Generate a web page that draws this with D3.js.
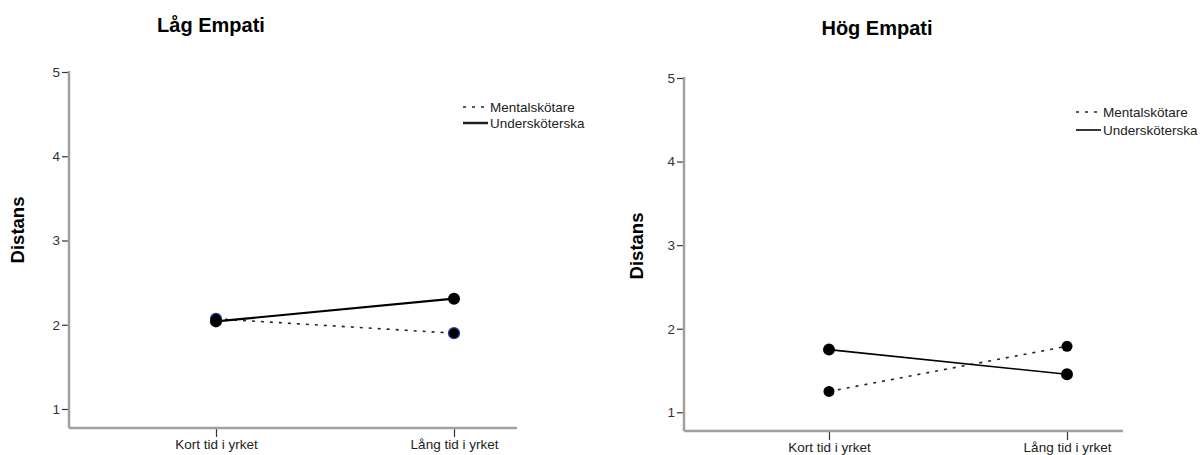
<!DOCTYPE html>
<html><head><meta charset="utf-8">
<script src="https://cdn.jsdelivr.net/npm/d3@7"></script>
<style>body{margin:0;background:#fff}svg{display:block;font-family:"Liberation Sans",Arial,sans-serif}</style>
</head><body><svg id="c" width="1202" height="455"></svg>
<script>
const categories = ["Kort tid i yrket", "Lång tid i yrket"];
const seriesNames = ["Mentalskötare", "Undersköterska"];
const yTicks = [1, 2, 3, 4, 5];
const lowMental = [2.07, 1.90];
const lowUnder = [2.04, 2.31];
const highMental = [1.25, 1.79];
const highUnder = [1.75, 1.455];
const panelTitles = ["Låg Empati", "Hög Empati"];
const yTitle = "Distans";

const svg = d3.select("#c");
const panels = [
  {title: panelTitles[0], m: lowMental, u: lowUnder, ax: 69, axEnd: 517, y5: 72, y1: 409, xAxisY: 428,
   cx: [216, 454], titleX: 211, titleY: 32, yTitleX: 24, yTitleY: 230, legX: 463, legY: 107, legGap: 16, solidW: 2.2, blueEdge: true},
  {title: panelTitles[1], m: highMental, u: highUnder, ax: 684, axEnd: 1123, y5: 78, y1: 412.3, xAxisY: 431,
   cx: [829, 1067], titleX: 877, titleY: 35, yTitleX: 643, yTitleY: 246, legX: 1076, legY: 112, legGap: 18, solidW: 1.6, blueEdge: false}
];

panels.forEach(p => {
  const g = svg.append("g");
  const y = d3.scaleLinear().domain([1, 5]).range([p.y1, p.y5]);
  const x = d3.scalePoint().domain(categories).range(p.cx);

  g.append("text").attr("x", p.titleX).attr("y", p.titleY).attr("text-anchor", "middle")
    .attr("font-size", 20).attr("font-weight", "bold").attr("fill", "#000").text(p.title);
  g.append("text").attr("transform", `translate(${p.yTitleX},${p.yTitleY}) rotate(-90)`)
    .attr("text-anchor", "middle").attr("font-size", 18.5).attr("font-weight", "bold").attr("fill", "#000").text(yTitle);

  const ya = d3.axisLeft(y).tickValues(yTicks).tickSize(7).tickPadding(2).tickFormat(d3.format("d"));
  const yg = g.append("g").attr("transform", `translate(${p.ax},0)`).call(ya);
  yg.select(".domain").remove();
  yg.selectAll(".tick line").attr("stroke", "#333").attr("stroke-width", 1.2);
  yg.selectAll(".tick text").attr("font-size", 13.5).attr("fill", "#333").attr("font-family", "Liberation Sans, Arial, sans-serif");
  g.append("line").attr("x1", p.ax).attr("x2", p.ax).attr("y1", p.y5 - 1).attr("y2", p.xAxisY)
    .attr("stroke", "#a0a0a0").attr("stroke-width", 2.5);

  const xa = d3.axisBottom(x).tickSize(9).tickPadding(2);
  const xg = g.append("g").attr("transform", `translate(0,${p.xAxisY})`).call(xa);
  xg.select(".domain").remove();
  xg.selectAll(".tick line").attr("stroke", "#333").attr("stroke-width", 1.2);
  xg.selectAll(".tick text").attr("font-size", 13.5).attr("fill", "#222").attr("font-family", "Liberation Sans, Arial, sans-serif");
  g.append("line").attr("x1", p.ax).attr("x2", p.axEnd).attr("y1", p.xAxisY).attr("y2", p.xAxisY)
    .attr("stroke", "#a0a0a0").attr("stroke-width", 2.5);

  const line = d3.line().x((d, i) => x(categories[i])).y(d => y(d));
  g.append("path").datum(p.m).attr("d", line).attr("fill", "none").attr("stroke", "#222")
    .attr("stroke-width", 1.6).attr("stroke-dasharray", "3,6");
  g.append("path").datum(p.u).attr("d", line).attr("fill", "none").attr("stroke", "#000")
    .attr("stroke-width", p.solidW);

  g.selectAll(".mm").data(p.m).enter().append("circle")
    .attr("cx", (d, i) => x(categories[i])).attr("cy", d => y(d)).attr("r", 5.5)
    .attr("fill", "#000").attr("stroke", p.blueEdge ? "#2b3f9a" : "none").attr("stroke-width", 1.2);
  g.selectAll(".mu").data(p.u).enter().append("circle")
    .attr("cx", (d, i) => x(categories[i])).attr("cy", d => y(d)).attr("r", 6)
    .attr("fill", "#000");

  seriesNames.forEach((s, i) => {
    const ly = p.legY + i * p.legGap;
    g.append("line").attr("x1", p.legX).attr("x2", p.legX + 25).attr("y1", ly).attr("y2", ly)
      .attr("stroke", "#222").attr("stroke-width", i === 0 ? 1.6 : (p.blueEdge ? 2.5 : 1.8))
      .attr("stroke-dasharray", i === 0 ? "3,6" : null);
    g.append("text").attr("x", p.legX + 27).attr("y", ly + 5).attr("font-size", 13.5)
      .attr("fill", "#222").text(s);
  });
});
</script></body></html>
